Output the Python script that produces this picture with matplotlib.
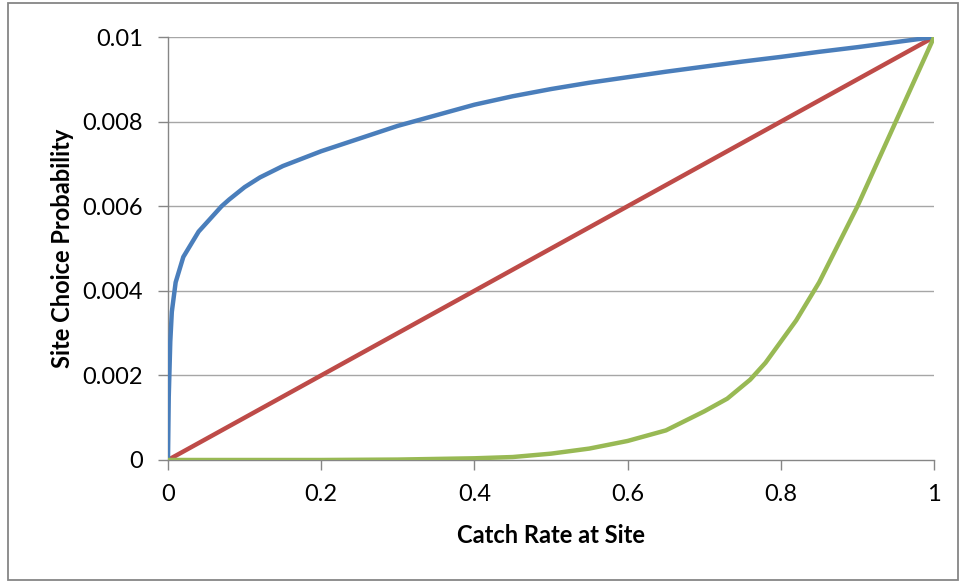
import matplotlib
matplotlib.use('Agg')
import matplotlib.pyplot as plt
from matplotlib.patches import Rectangle

plt.rcParams['font.family'] = ['Lato', 'DejaVu Sans']

# ── Data ────────────────────────────────────────────────────────────────────
blue_x = [0.0, 0.001, 0.003, 0.005, 0.01, 0.02, 0.03, 0.04, 0.05, 0.06, 0.07,
          0.08, 0.10, 0.12, 0.15, 0.20, 0.25, 0.30, 0.35, 0.40, 0.45, 0.50,
          0.55, 0.60, 0.65, 0.70, 0.75, 0.80, 0.85, 0.90, 0.95, 1.0]
blue_y = [0.0, 0.0015, 0.0028, 0.0035, 0.0042, 0.0048, 0.0051, 0.0054,
          0.0056, 0.0058, 0.0060, 0.00616, 0.00645, 0.00668, 0.00695, 0.0073,
          0.0076, 0.0079, 0.00815, 0.0084, 0.0086, 0.00877, 0.00892, 0.00905,
          0.00918, 0.0093, 0.00942, 0.00953, 0.00965, 0.00976, 0.00988, 0.0100]

red_x = [0.0, 1.0]
red_y = [0.0, 0.01]

green_x = [0.0, 0.1, 0.2, 0.3, 0.4, 0.45, 0.5, 0.55, 0.6, 0.65, 0.7, 0.73,
           0.76, 0.78, 0.8, 0.82, 0.85, 0.9, 0.95, 1.0]
green_y = [0.0, 0.0, 0.0, 0.00001, 0.00004, 0.00007, 0.00015, 0.00027,
           0.00045, 0.0007, 0.00115, 0.00145, 0.0019, 0.0023, 0.0028, 0.0033,
           0.0042, 0.0060, 0.0080, 0.0100]

x_ticks = [0, 0.2, 0.4, 0.6, 0.8, 1]
x_labels = ['0', '0.2', '0.4', '0.6', '0.8', '1']
y_ticks = [0, 0.002, 0.004, 0.006, 0.008, 0.01]
y_labels = ['0', '0.002', '0.004', '0.006', '0.008', '0.01']

# ── Plot ────────────────────────────────────────────────────────────────────
fig = plt.figure(figsize=(9.61, 5.83), dpi=100)
ax = fig.add_axes([0.1748, 0.211, 0.7972, 0.7255])

grid_col = '#a6a6a6'
for y in y_ticks[1:]:
    ax.axhline(y, color=grid_col, linewidth=1.0, zorder=1)

ax.plot(red_x, red_y, color='#be4b48', linewidth=3.2, zorder=3,
        solid_capstyle='round')
ax.plot(blue_x, blue_y, color='#4a7ebb', linewidth=3.2, zorder=4,
        solid_capstyle='round', solid_joinstyle='round')
ax.plot(green_x, green_y, color='#98b954', linewidth=3.2, zorder=5,
        solid_capstyle='round', solid_joinstyle='round')

ax.set_xlim(0, 1)
ax.set_ylim(0, 0.01)
ax.set_xticks(x_ticks)
ax.set_xticklabels(x_labels)
ax.set_yticks(y_ticks)
ax.set_yticklabels(y_labels)

for s in ['top', 'right']:
    ax.spines[s].set_visible(False)
for s in ['left', 'bottom']:
    ax.spines[s].set_color('#868686')
    ax.spines[s].set_linewidth(1.0)

ax.tick_params(axis='both', colors='#868686', labelcolor='black',
               labelsize=17, direction='out', length=7, width=1.0)
ax.tick_params(axis='x', pad=10)
ax.tick_params(axis='y', pad=11)

ax.set_xlabel('Catch Rate at Site', fontsize=17, fontweight='bold', labelpad=14)
ax.set_ylabel('Site Choice Probability', fontsize=17, fontweight='bold',
              labelpad=6)

# outer chart border
fig.patches.append(Rectangle((8 / 961, 3 / 583), 950 / 961, 577 / 583,
                             transform=fig.transFigure, fill=False,
                             edgecolor='#868686', linewidth=1.3))

fig.savefig('out.png', dpi=100)
